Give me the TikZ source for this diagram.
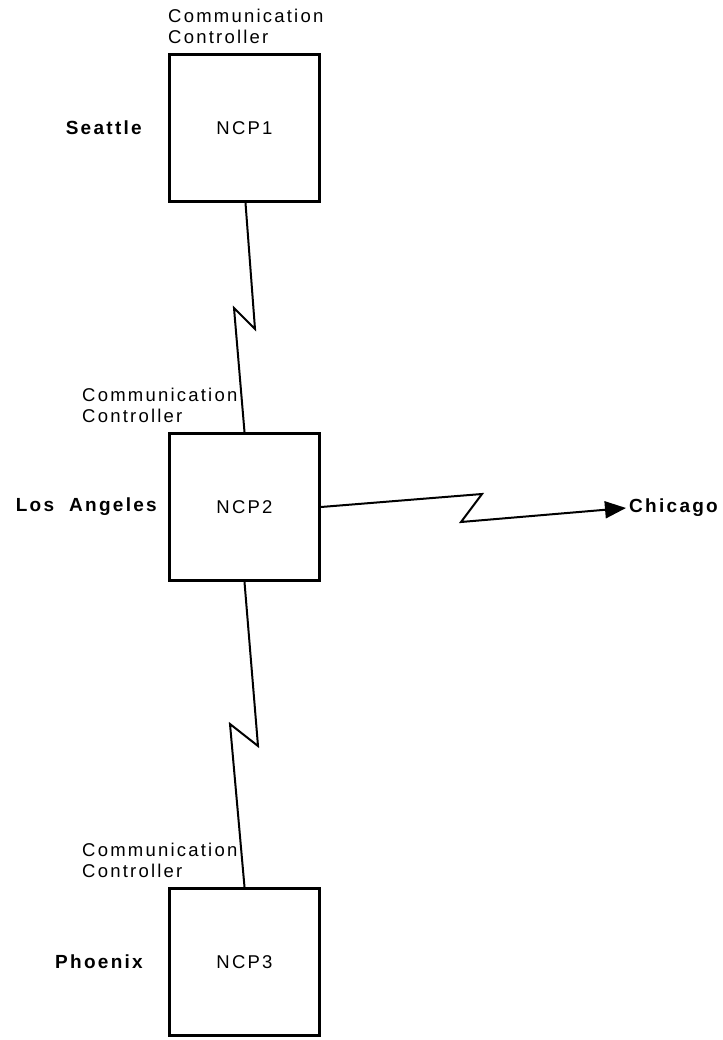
\documentclass[tikz,border=0pt]{standalone}
\usepackage{fontspec}
\setmainfont{Liberation Sans}[LetterSpace=12]
\usetikzlibrary{positioning,arrows.meta}

\begin{document}
\begin{tikzpicture}
  [x=1pt,y=-1pt
  ,ncp/.style={draw,line width=3pt,minimum width=150pt,minimum height=147pt,font=\fontsize{18.5}{21}\selectfont}
  ,ctrl/.style={align=left,inner sep=0pt,anchor=south west,font=\fontsize{18.5}{21}\selectfont}
  ,city/.style={inner sep=0pt,font=\bfseries\fontsize{19}{22}\selectfont}
  ,link/.style={line width=2pt,line join=miter}
  ]

  % Controller label
  %
  % #1 - controller node
  % #2 - x shift
  \newcommand{\ctrllabel}[2]{
    \node[ctrl] (#1-ctrl) at ([xshift=#2pt,yshift=9pt]#1.north west) {Communication\\Controller};
  }

  % Zigzag link
  %
  % #1 - start
  % #2 - upper corner
  % #3 - lower corner
  % #4 - end
  \newcommand{\zlink}[4]{
    \draw[link] (#1) -- (#2) -- (#3) -- (#4);
  }

  \useasboundingbox (0,0) rectangle (722,1040);

  % controllers
  \node[ncp] (ncp1) at (244.5,128) {NCP1};
  \node[ncp] (ncp2) at (244.5,507) {NCP2};
  \node[ncp] (ncp3) at (244.5,962) {NCP3};

  \ctrllabel{ncp1}{0}
  \ctrllabel{ncp2}{-86}
  \ctrllabel{ncp3}{-86}

  % cities
  \node[city,left=26pt of ncp1] (seattle) {Seattle};
  \node[city,left=11pt of ncp2] (la) {Los~~Angeles};
  \node[city,left=25pt of ncp3] (phoenix) {Phoenix};
  \node[city,anchor=west,inner sep=3pt] (chicago) at (626,508) {Chicago};

  % links
  \zlink{[xshift=1pt]ncp1.south}{255,329}{234,308}{ncp2.north}
  \zlink{ncp2.south}{258,746}{230,724}{ncp3.north}
  \draw[link,-{Triangle[length=21pt,width=17pt]}] (ncp2.east) -- (482,494) -- (461,522) -- (chicago.west);

\end{tikzpicture}
\end{document}
